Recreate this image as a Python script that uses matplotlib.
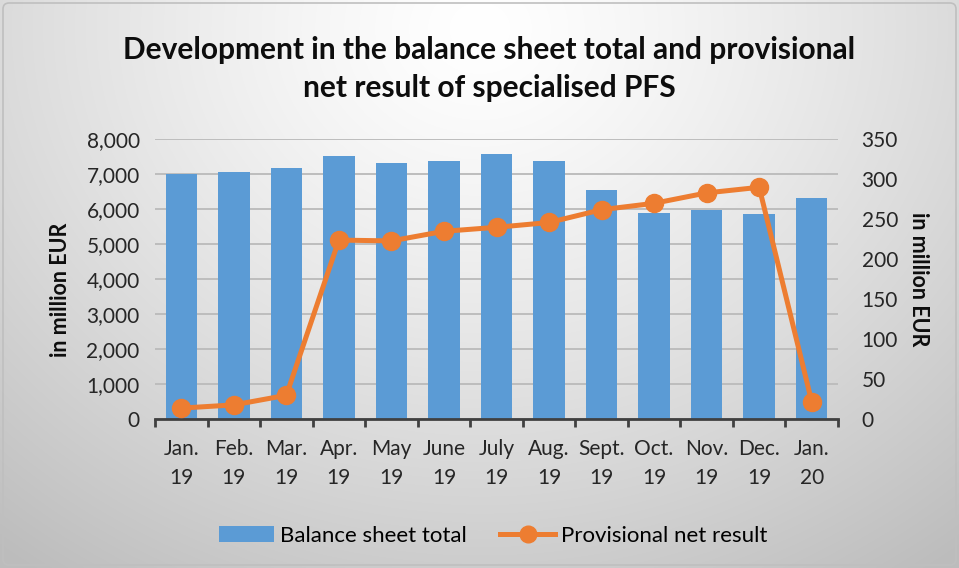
import numpy as np
import matplotlib
matplotlib.use("Agg")
import matplotlib.pyplot as plt
from matplotlib.ticker import FuncFormatter, FixedLocator
from matplotlib.lines import Line2D
from matplotlib.patches import Patch, FancyBboxPatch

categories = ["Jan.\n19", "Feb.\n19", "Mar.\n19", "Apr.\n19", "May\n19", "June\n19", "July\n19",
              "Aug.\n19", "Sept.\n19", "Oct.\n19", "Nov.\n19", "Dec.\n19", "Jan.\n20"]
balance_sheet_total = [7000, 7070, 7180, 7510, 7330, 7370, 7590, 7370, 6550, 5890, 5970, 5860, 6330]
net_result = [14, 18, 30, 224, 223, 235, 240, 246, 262, 270, 283, 290, 22]

plt.rcParams['font.family'] = ['Lato', 'DejaVu Sans']

W, H = 959, 568
fig = plt.figure(figsize=(W / 100, H / 100), dpi=100)

# background gradient
bg = fig.add_axes([0, 0, 1, 1], zorder=-10)
yy, xx = np.mgrid[0:H, 0:W]
cx, cy = W * 0.5, H * 0.05
d = np.sqrt(((xx - cx) / (W * 0.75)) ** 2 + ((yy - cy) / (H * 1.1)) ** 2)
v = np.clip(1.0 - 0.24 * d ** 1.3, 0.74, 1.0)
img = np.dstack([v, v, v])
bg.imshow(img, extent=[0, W, H, 0], aspect='auto', interpolation='bilinear')
bg.set_xlim(0, W)
bg.set_ylim(H, 0)
bg.axis('off')
bg.add_patch(FancyBboxPatch((3, 3), W - 6, H - 6, boxstyle="round,pad=0,rounding_size=6",
                            fill=False, edgecolor='#bfbfbf', lw=1.2))

FS = 15
ax = fig.add_axes([155 / W, 148.7 / H, 683 / W, 280 / H])
ax.patch.set_alpha(0)
x = np.arange(len(categories))
ax.bar(x, balance_sheet_total, width=0.6, color='#5B9BD5', zorder=2)
ax.set_ylim(0, 8000)
ax.set_xlim(-0.5, len(categories) - 0.5)
ax.set_yticks(np.arange(0, 8001, 1000))
ax.yaxis.set_major_formatter(FuncFormatter(lambda v, p: f"{int(v):,}"))
ax.grid(axis='y', color='#bdbdbd', lw=1.4, zorder=0)
ax.set_axisbelow(True)
for s in ['left', 'right', 'top']:
    ax.spines[s].set_visible(False)
ax.spines['bottom'].set_color('#404040')
ax.spines['bottom'].set_linewidth(2)
ax.tick_params(axis='y', length=0, labelsize=FS, colors='#262626', pad=11)
ax.xaxis.set_major_locator(FixedLocator(np.arange(-0.5, len(categories), 1.0)))
ax.xaxis.set_minor_locator(FixedLocator(x))
ax.tick_params(axis='x', which='major', length=6, width=2, color='#404040', labelbottom=False)
ax.tick_params(axis='x', which='minor', length=0, labelsize=FS, labelcolor='#262626', pad=14)
ax.set_xticklabels(categories, minor=True, linespacing=1.55)
ax.set_ylabel("in million EUR", fontsize=15.5, fontweight='bold', color='#0d0d0d', va='center')
ax.yaxis.set_label_coords(-0.139, 0.462)

ax2 = ax.twinx()
ax2.plot(x, net_result, color='#ED7D31', lw=3.6, marker='o', markersize=13, zorder=3)
ax2.set_ylim(0, 350)
ax2.set_yticks(np.arange(0, 351, 50))
for s in ['left', 'right', 'top', 'bottom']:
    ax2.spines[s].set_visible(False)
ax2.tick_params(axis='y', length=0, labelsize=FS, colors='#262626', pad=17)
ax2.set_ylabel("in million EUR", fontsize=15.5, fontweight='bold', rotation=270, color='#0d0d0d',
               va='center')
ax2.yaxis.set_label_coords(1.118, 0.50)

fig.text(489 / W, 1 - 69 / H, "Development in the balance sheet total and provisional\nnet result of specialised PFS",
         ha='center', va='center', fontsize=21.5, fontweight='bold', color='#0d0d0d', linespacing=1.45)

handles = [Patch(facecolor='#5B9BD5', edgecolor='none'),
           Line2D([0], [0], color='#ED7D31', lw=3.6, marker='o', markersize=12)]
fig.legend(handles, ["Balance sheet total", "Provisional net result"], loc='center',
           bbox_to_anchor=(493 / W, 1 - 536 / H), ncol=2, frameon=False, fontsize=16,
           handlelength=2.5, columnspacing=1.5, handletextpad=0.25)

fig.savefig("out.png", dpi=100)
